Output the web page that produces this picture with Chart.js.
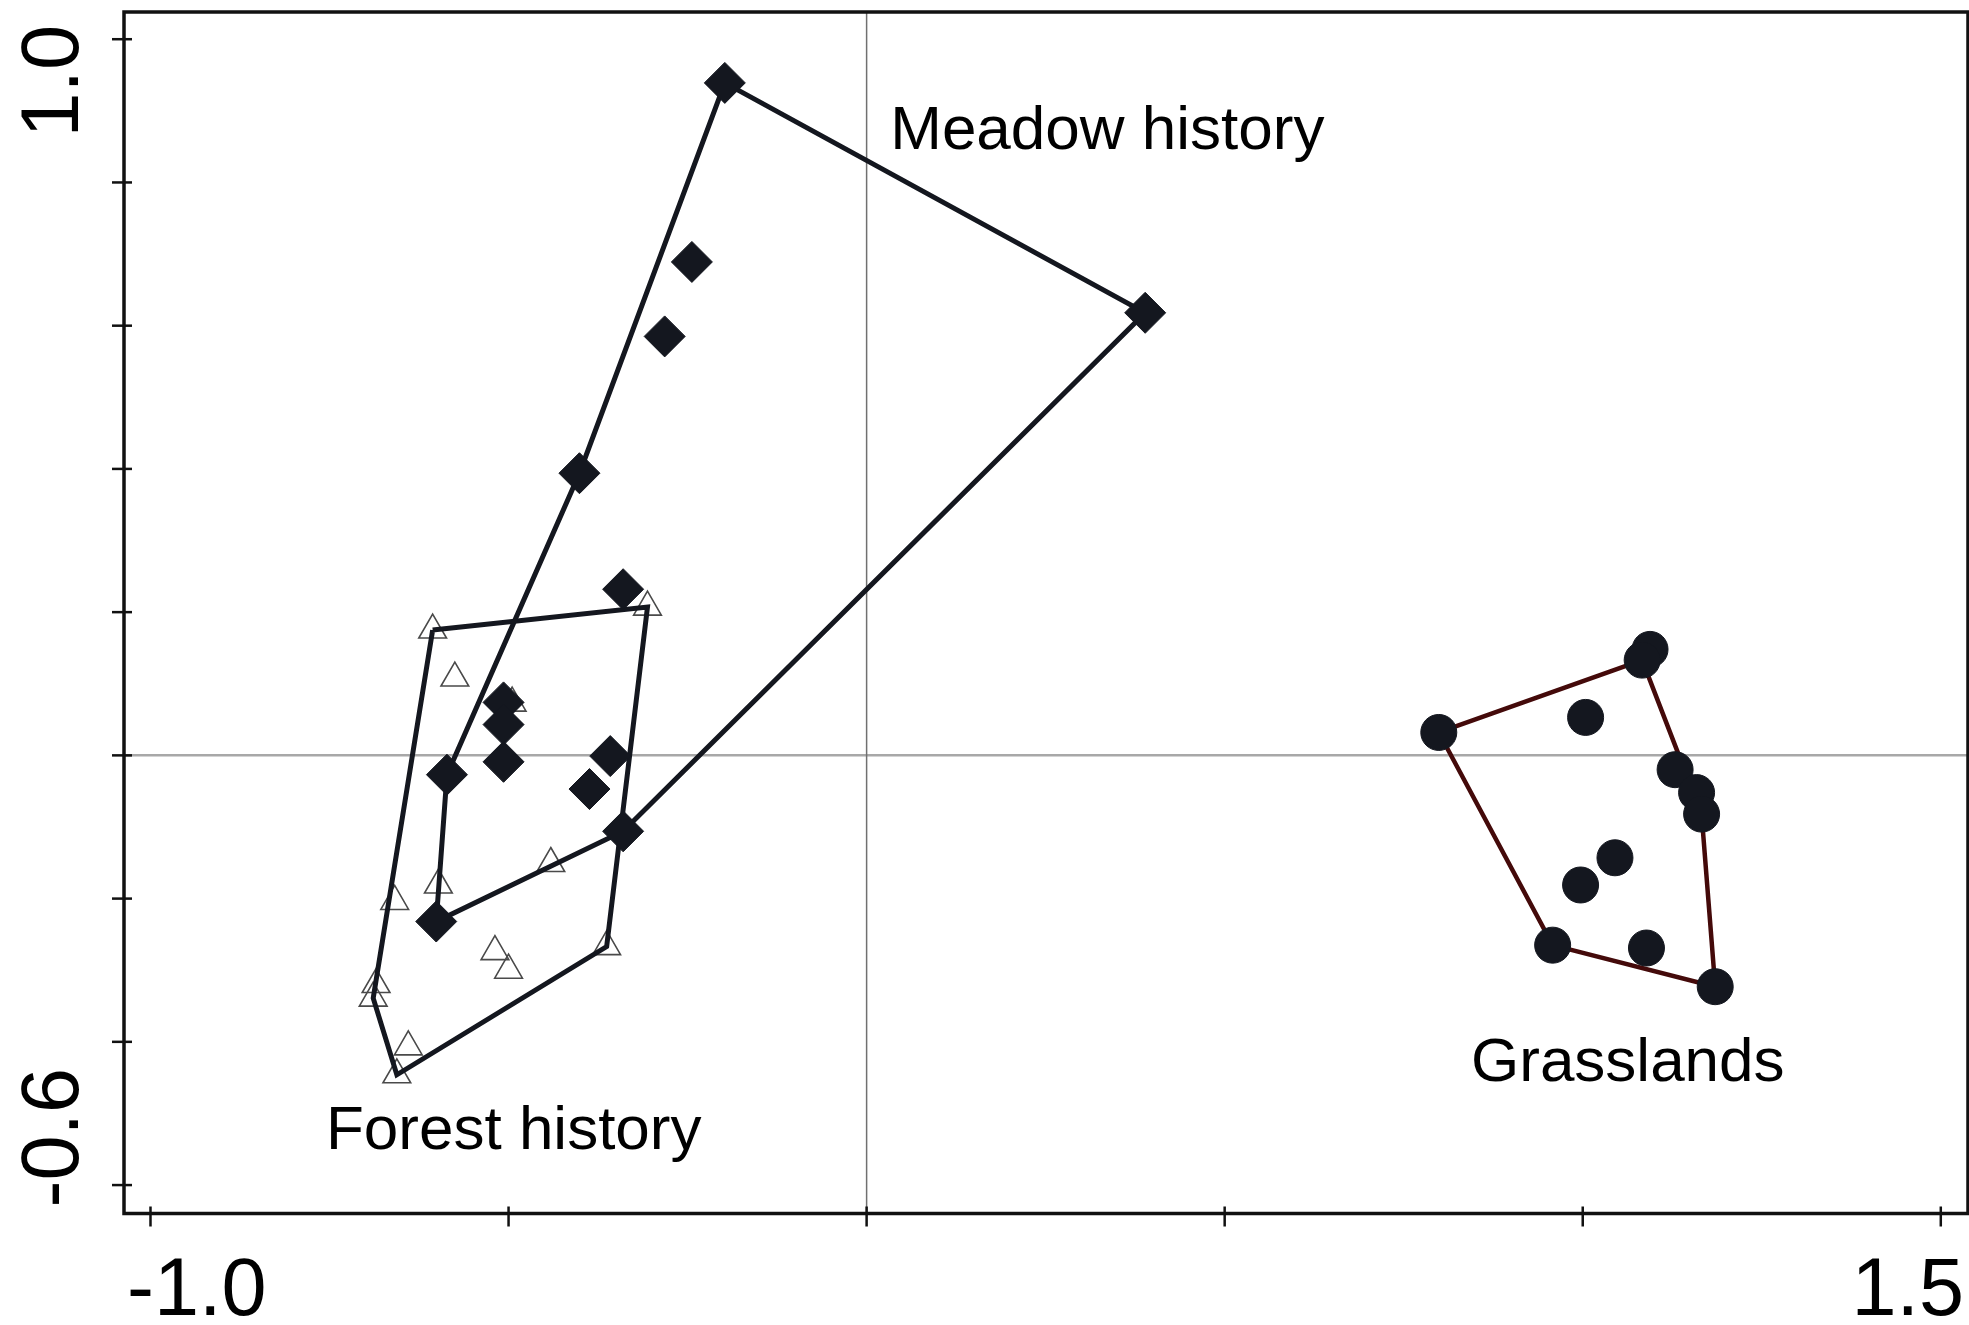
<!DOCTYPE html>
<html>
<head>
<meta charset="utf-8">
<script src="https://cdn.jsdelivr.net/npm/chart.js@4.4.0/dist/chart.umd.min.js"></script>
<style>
  html, body { margin: 0; padding: 0; background: #fff; }
  canvas { display: block; }
</style>
</head>
<body>
<canvas id="chartCanvas" width="1969" height="1325"></canvas>
<script>
// sample scores on ordination axes 1 and 2
const forestX = [-0.606, -0.306, -0.575, -0.495, -0.441, -0.598, -0.659, -0.519, -0.500, -0.363, -0.685, -0.689, -0.640, -0.656];
const forestY = [0.175, 0.207, 0.108, 0.073, -0.151, -0.181, -0.204, -0.274, -0.300, -0.267, -0.320, -0.339, -0.407, -0.446];

const meadowX = [-0.198, 0.389, -0.244, -0.282, -0.401, -0.340, -0.507, -0.507, -0.507, -0.586, -0.358, -0.387, -0.340, -0.601];
const meadowY = [0.939, 0.618, 0.689, 0.585, 0.394, 0.232, 0.074, 0.043, -0.009, -0.027, -0.001, -0.047, -0.106, -0.232];

const grassX = [0.799, 1.094, 1.083, 1.004, 1.129, 1.159, 1.166, 1.045, 0.997, 0.958, 1.089, 1.185];
const grassY = [0.032, 0.148, 0.133, 0.053, -0.020, -0.052, -0.082, -0.143, -0.181, -0.265, -0.269, -0.323];

// envelope vertices, as indices into the arrays above
const forestHull = [0, 1, 9, 13, 11, 0];
const meadowHull = [0, 1, 12, 13, 9, 4, 0];
const grassHull = [0, 2, 6, 11, 9, 0];

const xTicks = [-1.0, -0.5, 0.0, 0.5, 1.0, 1.5];
const yTicks = [1.0, 0.8, 0.6, 0.4, 0.2, 0.0, -0.2, -0.4, -0.6];
const xTickLabels = ['-1.0', '', '', '', '', '1.5'];
const yTickLabels = ['1.0', '', '', '', '', '', '', '', '-0.6'];

const groupNames = ['Meadow history', 'Forest history', 'Grasslands'];

const FONT = "'Liberation Sans', Arial, sans-serif";
const INK = '#14171f';

function pts(xs, ys) {
    return xs.map((x, i) => ({ x: x, y: ys[i] }));
}
function hullPts(xs, ys, idx) {
    return idx.map(i => ({ x: xs[i], y: ys[i] }));
}

const framePlugin = {
    id: 'frame',
    beforeDatasetsDraw(chart) {
        const ctx = chart.ctx;
        const a = chart.chartArea;
        const xs = chart.scales.x, ys = chart.scales.y;
        ctx.save();
        // zero lines
        ctx.strokeStyle = '#a8a8a8';
        ctx.lineWidth = 2.5;
        ctx.beginPath();
        ctx.moveTo(a.left, ys.getPixelForValue(0));
        ctx.lineTo(a.right, ys.getPixelForValue(0));
        ctx.stroke();
        ctx.strokeStyle = '#707070';
        ctx.lineWidth = 1.5;
        ctx.beginPath();
        ctx.moveTo(xs.getPixelForValue(0), a.top);
        ctx.lineTo(xs.getPixelForValue(0), a.bottom);
        ctx.stroke();
        ctx.restore();
    },
    afterDraw(chart) {
        const ctx = chart.ctx;
        const a = chart.chartArea;
        const xs = chart.scales.x, ys = chart.scales.y;
        ctx.save();
        ctx.strokeStyle = '#111';
        ctx.lineWidth = 3.5;
        ctx.strokeRect(a.left, a.top, a.right - a.left, a.bottom - a.top);

        ctx.lineWidth = 2.5;
        xTicks.forEach(v => {
            const px = xs.getPixelForValue(v);
            ctx.beginPath();
            ctx.moveTo(px, a.bottom - 7);
            ctx.lineTo(px, a.bottom + 13);
            ctx.stroke();
        });
        yTicks.forEach(v => {
            const py = ys.getPixelForValue(v);
            ctx.beginPath();
            ctx.moveTo(a.left - 12, py);
            ctx.lineTo(a.left + 8, py);
            ctx.stroke();
        });

        // end tick labels
        ctx.fillStyle = '#000';
        ctx.font = '81px ' + FONT;
        ctx.textBaseline = 'alphabetic';
        ctx.textAlign = 'left';
        ctx.fillText(xTickLabels[0], a.left + 3, 1315);
        ctx.textAlign = 'right';
        ctx.fillText(xTickLabels[xTickLabels.length - 1], a.right - 4, 1315);

        ctx.save();
        ctx.translate(78, a.bottom - 6);
        ctx.rotate(-Math.PI / 2);
        ctx.textAlign = 'left';
        ctx.fillText(yTickLabels[yTickLabels.length - 1], 0, 0);
        ctx.restore();
        ctx.save();
        ctx.translate(78, 25);
        ctx.rotate(-Math.PI / 2);
        ctx.textAlign = 'right';
        ctx.fillText(yTickLabels[0], 0, 0);
        ctx.restore();

        // group labels
        ctx.font = '62px ' + FONT;
        ctx.textAlign = 'left';
        ctx.fillText(groupNames[0], xs.getPixelForValue(0.033), ys.getPixelForValue(0.847));
        ctx.fillText(groupNames[1], xs.getPixelForValue(-0.755), ys.getPixelForValue(-0.550));
        ctx.fillText(groupNames[2], xs.getPixelForValue(0.844), ys.getPixelForValue(-0.454));
        ctx.restore();
    }
};

const ctx = document.getElementById('chartCanvas').getContext('2d');
new Chart(ctx, {
    type: 'scatter',
    data: {
        datasets: [
            {
                label: groupNames[1],
                data: pts(forestX, forestY),
                pointStyle: 'triangle',
                pointRadius: 16,
                pointBorderWidth: 1.6,
                pointBorderColor: '#4a4a4a',
                pointBackgroundColor: 'rgba(255,255,255,0)',
                order: 6
            },
            {
                label: 'forest envelope',
                data: hullPts(forestX, forestY, forestHull),
                showLine: true,
                borderColor: INK,
                borderWidth: 5,
                pointRadius: 0,
                order: 4
            },
            {
                label: 'meadow envelope',
                data: hullPts(meadowX, meadowY, meadowHull),
                showLine: true,
                borderColor: INK,
                borderWidth: 5,
                pointRadius: 0,
                order: 3
            },
            {
                label: 'grass envelope',
                data: hullPts(grassX, grassY, grassHull),
                showLine: true,
                borderColor: '#440a0a',
                borderWidth: 4.5,
                pointRadius: 0,
                order: 3
            },
            {
                label: groupNames[0],
                data: pts(meadowX, meadowY),
                pointStyle: 'rectRot',
                pointRadius: 20.5,
                pointBorderWidth: 1,
                pointBorderColor: INK,
                pointBackgroundColor: INK,
                order: 1
            },
            {
                label: groupNames[2],
                data: pts(grassX, grassY),
                pointStyle: 'circle',
                pointRadius: 18,
                pointBorderWidth: 1,
                pointBorderColor: INK,
                pointBackgroundColor: INK,
                order: 1
            }
        ]
    },
    options: {
        responsive: false,
        animation: false,
        events: [],
        layout: { autoPadding: false, padding: { left: 124, right: 1, top: 12, bottom: 111.5 } },
        scales: {
            x: { type: 'linear', display: false, min: -1.037, max: 1.538 },
            y: { type: 'linear', display: false, min: -0.6397, max: 1.038 }
        },
        plugins: {
            legend: { display: false },
            tooltip: { enabled: false }
        }
    },
    plugins: [framePlugin]
});
</script>
</body>
</html>
